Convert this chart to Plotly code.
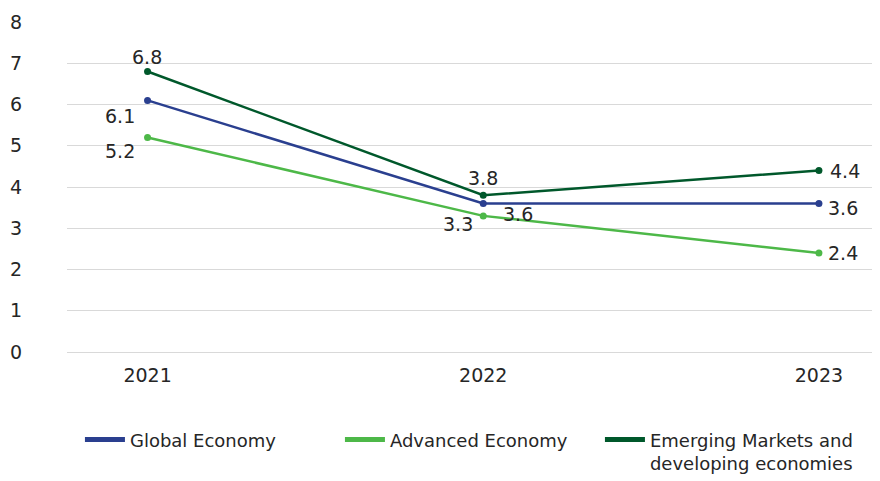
import plotly.graph_objects as go

years = ["2021", "2022", "2023"]
global_economy = [6.1, 3.6, 3.6]
advanced_economy = [5.2, 3.3, 2.4]
emerging_economies = [6.8, 3.8, 4.4]

# name, values, colour, label offsets (px) per point
series = [
    ("Global Economy", global_economy, "#2a3f8f",
     [(-28, 16), (35, 10), (24, 4)]),
    ("Advanced Economy", advanced_economy, "#4db848",
     [(-28, 13), (-25, 8), (24, 0)]),
    ("Emerging Markets and<br>developing economies", emerging_economies, "#00582b",
     [(-1, -15), (0, -17), (26, 0)]),
]

font_family = "DejaVu Sans, sans-serif"
text_color = "#262626"

fig = go.Figure()

for name, vals, color, offsets in series:
    fig.add_trace(go.Scatter(
        x=years, y=vals,
        mode="lines+markers",
        line=dict(color=color, width=2.5),
        marker=dict(color=color, size=7),
        cliponaxis=False,
        showlegend=False,
        legendgroup=name,
    ))
    # legend-only entry with a thicker swatch
    fig.add_trace(go.Scatter(
        x=[None], y=[None], mode="lines", name=name,
        line=dict(color=color, width=5),
        legendgroup=name,
    ))
    # value labels, x given as category index
    for i, (v, (dx, dy)) in enumerate(zip(vals, offsets)):
        fig.add_annotation(
            x=i, y=v, text=f"{v:.1f}", showarrow=False,
            xshift=dx, yshift=-dy,
            font=dict(size=19, color=text_color),
        )

fig.update_layout(
    width=872, height=473,
    margin=dict(l=59, r=4, t=14, b=129, autoexpand=False),
    plot_bgcolor="white",
    paper_bgcolor="white",
    font=dict(family=font_family, size=19, color=text_color),
    legend=dict(
        orientation="h",
        x=0.016, xanchor="left",
        y=-0.21, yanchor="top",
        valign="top",
        font=dict(size=18, color=text_color),
        itemwidth=40,
        entrywidth=205,
        tracegroupgap=0,
    ),
)

fig.update_xaxes(
    type="category",
    range=[-0.24, 2.17],
    showgrid=False,
    showline=False,
    zeroline=False,
    ticks="",
    ticklabelstandoff=10,
    automargin=False,
)

fig.update_yaxes(
    range=[0, 8],
    dtick=1,
    showgrid=True,
    gridcolor="#d9d9d9",
    gridwidth=1,
    zeroline=True,
    zerolinecolor="#d9d9d9",
    zerolinewidth=1,
    showline=False,
    ticks="",
    ticklabelstandoff=44,
    automargin=False,
)

fig.write_html("out.html")
